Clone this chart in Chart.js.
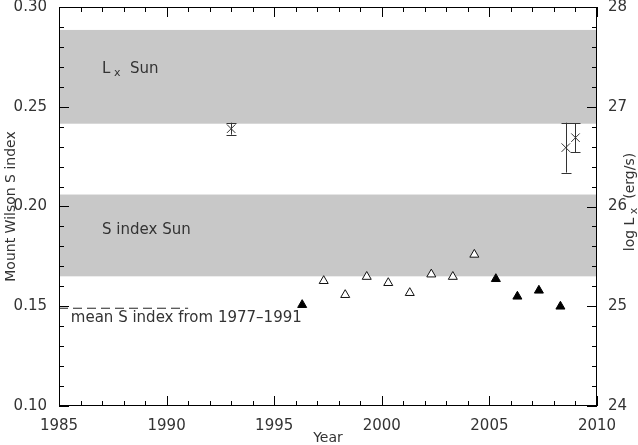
<!DOCTYPE html>
<html>
<head>
<meta charset="utf-8">
<script src="https://cdn.jsdelivr.net/npm/chart.js@4.4.0/dist/chart.umd.min.js"></script>
<style>
  html, body { margin: 0; padding: 0; background: #fff; }
  #wrap { width: 638px; height: 445px; }
</style>
</head>
<body>
<div id="wrap"><canvas id="chart" width="638" height="445"></canvas></div>
<script>
// S index, open triangles
const openYears = [1997.3, 1998.3, 1999.3, 2000.3, 2001.3, 2002.3, 2003.3, 2004.3];
const openS = [0.1627, 0.1557, 0.1648, 0.1617, 0.1567, 0.1660, 0.1648, 0.1759];
// S index, filled triangles
const filledYears = [1996.3, 2005.3, 2006.3, 2007.3, 2008.3];
const filledS = [0.1507, 0.1637, 0.1549, 0.1579, 0.1499];
// log Lx with errors (right axis)
const lxYears = [1993.0, 2008.55, 2009.0];
const lxValues = [26.78, 26.59, 26.69];
const lxErrors = [0.06, 0.25, 0.145];
// solar ranges
const sunLxBand = [26.83, 27.77];
const sunSBand = [0.165, 0.206];
const meanS = 0.149;
const meanYears = [1985, 1991];

const textColor = '#333';
const fontFamily = "'DejaVu Sans', sans-serif";
const tickFont = { family: fontFamily, size: 15 };

function drawSub(ctx, x, y, parts, size, subSize) {
    // parts: [text, isSub]
    let cx = x;
    parts.forEach(p => {
        ctx.font = (p[1] ? subSize : size) + 'px ' + fontFamily;
        ctx.fillText(p[0], cx, y + (p[1] ? 4 : 0));
        cx += ctx.measureText(p[0]).width;
    });
}

function noPad(s) {
    s.paddingTop = 0;
    s.paddingBottom = 0;
}

const bandsPlugin = {
    id: 'bands',
    beforeDatasetsDraw(chart) {
        const { ctx, chartArea, scales } = chart;
        ctx.save();
        ctx.fillStyle = 'rgb(200,200,200)';
        let top = scales.y2.getPixelForValue(sunLxBand[1]);
        let bot = scales.y2.getPixelForValue(sunLxBand[0]);
        ctx.fillRect(chartArea.left, top, chartArea.right - chartArea.left, bot - top);
        top = scales.y.getPixelForValue(sunSBand[1]);
        bot = scales.y.getPixelForValue(sunSBand[0]);
        ctx.fillRect(chartArea.left, top, chartArea.right - chartArea.left, bot - top);
        ctx.restore();
    }
};

const framePlugin = {
    id: 'frame',
    afterDatasetsDraw(chart) {
        const { ctx, chartArea, scales } = chart;
        const { left, right, top, bottom } = chartArea;
        ctx.save();

        // error bars
        ctx.strokeStyle = '#333';
        ctx.lineWidth = 1;
        lxYears.forEach((yr, i) => {
            const px = Math.round(scales.x.getPixelForValue(yr)) + 0.5;
            const y1 = scales.y2.getPixelForValue(lxValues[i] + lxErrors[i]);
            const y2 = scales.y2.getPixelForValue(lxValues[i] - lxErrors[i]);
            ctx.beginPath();
            ctx.moveTo(px, y1); ctx.lineTo(px, y2);
            ctx.moveTo(px - 5, Math.round(y1) + 0.5); ctx.lineTo(px + 5, Math.round(y1) + 0.5);
            ctx.moveTo(px - 5, Math.round(y2) + 0.5); ctx.lineTo(px + 5, Math.round(y2) + 0.5);
            ctx.stroke();
        });

        // frame
        ctx.strokeStyle = '#000';
        ctx.strokeRect(left + 0.5, top + 0.5, right - left - 1, bottom - top - 1);

        // ticks pointing inward
        ctx.beginPath();
        for (let yr = 1985; yr <= 2010; yr++) {
            const px = Math.round(scales.x.getPixelForValue(yr)) + 0.5;
            const len = yr % 5 === 0 ? 10 : 5;
            ctx.moveTo(px, bottom); ctx.lineTo(px, bottom - len);
            ctx.moveTo(px, top); ctx.lineTo(px, top + len);
        }
        for (let k = 0; k <= 20; k++) {
            const len = k % 5 === 0 ? 10 : 5;
            const py = Math.round(scales.y.getPixelForValue(0.10 + k * 0.01)) + 0.5;
            ctx.moveTo(left, py); ctx.lineTo(left + len, py);
            const py2 = Math.round(scales.y2.getPixelForValue(24 + k * 0.2)) + 0.5;
            ctx.moveTo(right, py2); ctx.lineTo(right - len, py2);
        }
        ctx.stroke();
        ctx.restore();
    },
    afterDraw(chart) {
        const { ctx, chartArea, scales } = chart;
        ctx.save();
        ctx.fillStyle = textColor;
        ctx.textBaseline = 'middle';
        ctx.textAlign = 'left';

        // labels inside the plot
        const lx = scales.x.getPixelForValue(1987);
        drawSub(ctx, lx, scales.y.getPixelForValue(0.2687), [['L', false], [' x', true], ['  Sun', false]], 15, 11);
        ctx.font = '15px ' + fontFamily;
        ctx.fillText('S index Sun', lx, scales.y.getPixelForValue(0.188));
        ctx.fillText('mean S index from 1977\u20131991', scales.x.getPixelForValue(1985.55), scales.y.getPixelForValue(0.1442));

        // axis titles
        ctx.textAlign = 'center';
        ctx.font = '14px ' + fontFamily;
        ctx.fillText('Year', (chartArea.left + chartArea.right) / 2, 438);

        const midY = (chartArea.top + chartArea.bottom) / 2;
        ctx.save();
        ctx.translate(11, midY);
        ctx.rotate(-Math.PI / 2);
        ctx.fillText('Mount Wilson S index', 0, 0);
        ctx.restore();

        ctx.save();
        ctx.translate(630, 202);
        ctx.rotate(-Math.PI / 2);
        ctx.textAlign = 'left';
        const parts = [['log L', false], [' x', true], ['  (erg/s)', false]];
        let w = 0;
        parts.forEach(p => {
            ctx.font = (p[1] ? 11 : 14) + 'px ' + fontFamily;
            w += ctx.measureText(p[0]).width;
        });
        drawSub(ctx, -w / 2, 0, parts, 14, 11);
        ctx.restore();

        ctx.restore();
    }
};

new Chart(document.getElementById('chart'), {
    type: 'scatter',
    data: {
        datasets: [{
            type: 'line',
            data: meanYears.map(x => ({ x: x, y: meanS })),
            borderColor: '#222',
            borderWidth: 1,
            borderDash: [9, 5],
            pointRadius: 0,
            yAxisID: 'y'
        }, {
            data: openYears.map((x, i) => ({ x: x, y: openS[i] })),
            pointStyle: 'triangle',
            pointRadius: 5.2,
            backgroundColor: '#fff',
            borderColor: '#111',
            borderWidth: 1,
            yAxisID: 'y'
        }, {
            data: filledYears.map((x, i) => ({ x: x, y: filledS[i] })),
            pointStyle: 'triangle',
            pointRadius: 5.2,
            backgroundColor: '#000',
            borderColor: '#000',
            borderWidth: 1,
            yAxisID: 'y'
        }, {
            data: lxYears.map((x, i) => ({ x: x, y: lxValues[i] })),
            pointStyle: 'crossRot',
            pointRadius: 6,
            borderColor: '#333',
            borderWidth: 1,
            yAxisID: 'y2'
        }]
    },
    options: {
        responsive: false,
        animation: false,
        devicePixelRatio: 1,
        layout: { padding: { top: 3 } },
        plugins: { legend: { display: false }, tooltip: { enabled: false } },
        scales: {
            x: {
                type: 'linear', min: 1985, max: 2010,
                grid: { display: false },
                border: { display: false },
                ticks: { stepSize: 5, padding: 3, color: textColor, font: tickFont, maxRotation: 0,
                    callback: v => String(v) },
                afterFit: s => { s.height = 39; s.paddingLeft = 0; s.paddingRight = 0; }
            },
            y: {
                position: 'left', min: 0.10, max: 0.30,
                grid: { display: false },
                border: { display: false },
                ticks: { stepSize: 0.05, padding: 4, color: textColor, font: tickFont,
                    callback: v => v.toFixed(2) },
                afterFit: s => { s.width = 59; noPad(s); }
            },
            y2: {
                position: 'right', min: 24, max: 28,
                grid: { display: false },
                border: { display: false },
                ticks: { stepSize: 1, padding: 3, color: textColor, font: tickFont,
                    callback: v => String(v) },
                afterFit: s => { s.width = 41; noPad(s); }
            }
        }
    },
    plugins: [bandsPlugin, framePlugin]
});
</script>
</body>
</html>
